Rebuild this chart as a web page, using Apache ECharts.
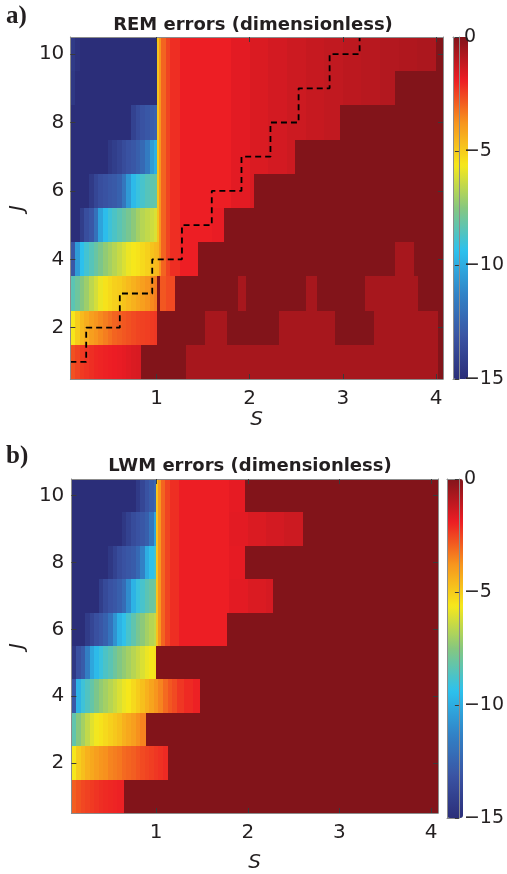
<!DOCTYPE html>
<html>
<head>
<meta charset="utf-8">
<script src="https://cdn.jsdelivr.net/npm/echarts@6/dist/echarts.min.js"></script>
<style>
  html, body { margin: 0; padding: 0; background: #fff; }
  #chart { width: 507px; height: 874px; }
</style>
</head>
<body>
<div id="chart"></div>
<script>
// axis extents and ticks
const sStart = 0.075
const sEnd = 4.075
const sTicks = [1, 2, 3, 4]
const jTicks = [2, 4, 6, 8, 10]
const errMin = -15
const errMax = 0

// colour map (jet, as printed)
const jetColors = ['#2b2e79', '#3a54a4', '#3184c8', '#2cc1ee', '#86c77f', '#f6e81b', '#f7941e', '#ed1c24', '#82141a']

// REM errors, one row per J: [S at right edge of cell, log10 error]
const remJ1 = [[0.125, -2.7], [0.175, -2.5], [0.225, -2.35], [0.275, -2.25], [0.325, -2.15], [0.375, -2.05], [0.425, -2.0], [0.475, -1.95], [0.525, -1.9], [0.575, -1.85], [0.625, -1.8], [0.675, -1.75], [0.725, -1.65], [0.775, -1.55], [0.835, -1.5], [1.32, 0], [4.025, -0.65], [4.075, 0]]
const remJ2 = [[0.125, -5.6], [0.175, -5.0], [0.225, -4.6], [0.275, -4.3], [0.325, -4.0], [0.375, -3.8], [0.425, -3.6], [0.475, -3.4], [0.525, -3.2], [0.575, -3.0], [0.625, -2.9], [0.675, -2.8], [0.725, -2.7], [0.775, -2.6], [0.825, -2.5], [0.875, -2.45], [0.925, -2.4], [0.975, -2.35], [1.0, -2.3], [1.52, 0], [1.76, -0.65], [2.32, 0], [2.92, -0.65], [3.33, 0], [4.025, -0.65], [4.075, 0]]
const remJ3 = [[0.125, -8.4], [0.175, -8.0], [0.225, -7.5], [0.275, -7.1], [0.325, -6.6], [0.375, -6.2], [0.425, -5.8], [0.475, -5.5], [0.525, -5.3], [0.575, -5.1], [0.625, -5.0], [0.675, -4.8], [0.725, -4.6], [0.775, -4.4], [0.825, -4.2], [0.875, -4.0], [0.925, -3.8], [0.975, -3.6], [1.0, -3.4], [1.04, 0], [1.1, -2.8], [1.2, -2.6], [1.875, 0], [1.965, -0.65], [2.6, 0], [2.72, -0.65], [3.24, 0], [3.81, -0.65], [4.075, 0]]
const remJ4 = [[0.125, -13.0], [0.175, -10.5], [0.225, -9.4], [0.275, -8.9], [0.325, -8.5], [0.375, -8.1], [0.425, -7.7], [0.475, -7.3], [0.525, -7.0], [0.575, -6.7], [0.625, -6.4], [0.675, -6.1], [0.725, -5.8], [0.775, -5.6], [0.825, -5.5], [0.875, -5.3], [0.925, -5.1], [0.975, -4.8], [1.0, -4.6], [1.025, -4.5], [1.05, -3.8], [1.1, -3.0], [1.15, -2.5], [1.25, -2.15], [1.44, -1.9], [3.56, 0], [3.76, -0.65], [4.075, 0]]
const remJ5 = [[0.175, -15], [0.225, -14.2], [0.275, -13.4], [0.325, -13.0], [0.375, -12.0], [0.425, -10.3], [0.475, -9.5], [0.525, -9.0], [0.575, -8.7], [0.625, -8.4], [0.675, -8.1], [0.725, -7.8], [0.775, -7.4], [0.825, -7.0], [0.875, -6.7], [0.925, -6.5], [0.975, -6.3], [1.0, -6.1], [1.025, -4.8], [1.05, -3.8], [1.1, -3.0], [1.15, -2.5], [1.25, -2.15], [1.6, -1.9], [1.72, -1.8], [4.075, 0]]
const remJ6 = [[0.275, -15], [0.325, -14.4], [0.375, -13.8], [0.425, -13.4], [0.475, -13.2], [0.525, -13.0], [0.575, -12.9], [0.625, -12.6], [0.675, -11.8], [0.725, -10.6], [0.775, -9.6], [0.825, -9.1], [0.875, -8.8], [0.925, -8.5], [0.975, -8.3], [1.0, -8.2], [1.025, -4.8], [1.05, -3.8], [1.1, -3.0], [1.15, -2.5], [1.25, -2.15], [1.8, -1.9], [2.0, -1.7], [2.043, -1.55], [4.075, 0]]
const remJ7 = [[0.475, -15], [0.525, -14.5], [0.575, -14.2], [0.625, -13.9], [0.675, -13.5], [0.725, -13.2], [0.775, -13.0], [0.825, -12.7], [0.875, -12.3], [0.925, -11.6], [0.975, -10.5], [1.0, -9.9], [1.025, -4.8], [1.05, -3.8], [1.1, -3.0], [1.15, -2.5], [1.25, -2.15], [1.8, -1.9], [2.0, -1.7], [2.2, -1.55], [2.4, -1.42], [2.486, -1.3], [4.075, 0]]
const remJ8 = [[0.725, -15], [0.775, -14.0], [0.825, -13.5], [0.875, -13.2], [0.925, -13.0], [0.975, -12.8], [1.0, -12.6], [1.025, -4.8], [1.05, -3.8], [1.1, -3.0], [1.15, -2.5], [1.25, -2.15], [1.8, -1.9], [2.0, -1.7], [2.2, -1.55], [2.4, -1.42], [2.6, -1.3], [2.8, -1.2], [2.965, -1.1], [4.075, 0]]
const remJ9 = [[0.125, -14.5], [1.0, -15], [1.025, -4.8], [1.05, -3.8], [1.1, -3.0], [1.15, -2.5], [1.25, -2.15], [1.8, -1.9], [2.0, -1.7], [2.2, -1.55], [2.4, -1.42], [2.6, -1.3], [2.8, -1.2], [3.0, -1.1], [3.2, -1.02], [3.4, -0.94], [3.56, -0.86], [4.075, 0]]
const remJ10 = [[0.125, -14.4], [0.175, -14.8], [1.0, -15], [1.025, -4.8], [1.05, -3.8], [1.1, -3.0], [1.15, -2.5], [1.25, -2.15], [1.8, -1.9], [2.0, -1.7], [2.2, -1.55], [2.4, -1.42], [2.6, -1.3], [2.8, -1.2], [3.0, -1.1], [3.2, -1.02], [3.4, -0.94], [3.6, -0.86], [3.8, -0.8], [4.0, -0.74], [4.075, 0]]

// LWM errors, same layout
const lwmJ1 = [[0.125, -2.9], [0.175, -2.7], [0.225, -2.55], [0.275, -2.45], [0.325, -2.35], [0.375, -2.25], [0.425, -2.15], [0.475, -2.1], [0.525, -2.05], [0.575, -2.0], [0.647, -1.95], [4.075, 0]]
const lwmJ2 = [[0.125, -5.6], [0.175, -5.0], [0.225, -4.7], [0.275, -4.4], [0.325, -4.2], [0.375, -4.0], [0.425, -3.8], [0.475, -3.7], [0.525, -3.5], [0.575, -3.4], [0.625, -3.3], [0.675, -3.1], [0.725, -3.0], [0.775, -2.9], [0.825, -2.75], [0.875, -2.6], [0.925, -2.5], [0.975, -2.4], [1.025, -2.3], [1.075, -2.2], [1.124, -2.1], [4.075, 0]]
const lwmJ3 = [[0.125, -8.3], [0.175, -7.5], [0.225, -7.0], [0.275, -6.5], [0.325, -6.0], [0.375, -5.7], [0.425, -5.5], [0.475, -5.3], [0.525, -5.1], [0.575, -4.9], [0.625, -4.7], [0.675, -4.4], [0.725, -4.2], [0.775, -4.0], [0.825, -3.7], [0.885, -3.5], [4.075, 0]]
const lwmJ4 = [[0.125, -13.0], [0.175, -9.8], [0.225, -9.0], [0.275, -8.6], [0.325, -8.2], [0.375, -7.7], [0.425, -7.3], [0.475, -7.0], [0.525, -6.7], [0.575, -6.4], [0.625, -6.1], [0.675, -5.8], [0.725, -5.6], [0.775, -5.3], [0.825, -5.0], [0.875, -4.7], [0.925, -4.4], [0.975, -4.1], [1.025, -3.8], [1.075, -3.5], [1.125, -3.1], [1.175, -2.8], [1.225, -2.6], [1.3, -2.3], [1.4, -2.1], [1.477, -1.95], [4.075, 0]]
const lwmJ5 = [[0.125, -14.5], [0.175, -13.3], [0.225, -12.8], [0.275, -11.5], [0.325, -10.2], [0.375, -9.6], [0.425, -9.1], [0.475, -8.7], [0.525, -8.4], [0.575, -8.0], [0.625, -7.6], [0.675, -7.3], [0.725, -7.0], [0.775, -6.7], [0.825, -6.4], [0.875, -6.1], [0.925, -5.8], [0.975, -5.6], [1.0, -5.5], [4.075, 0]]
const lwmJ6 = [[0.225, -15], [0.275, -14.3], [0.325, -13.8], [0.375, -13.3], [0.425, -13.0], [0.475, -12.6], [0.525, -11.9], [0.575, -10.8], [0.625, -9.8], [0.675, -9.3], [0.725, -8.8], [0.775, -8.3], [0.825, -7.8], [0.875, -7.4], [0.925, -7.0], [0.975, -6.7], [1.0, -6.5], [1.025, -4.8], [1.05, -3.8], [1.1, -3.0], [1.15, -2.5], [1.25, -2.15], [1.77, -1.9], [4.075, 0]]
const lwmJ7 = [[0.375, -15], [0.425, -14.2], [0.475, -13.6], [0.525, -13.2], [0.575, -13.0], [0.625, -12.7], [0.675, -12.2], [0.725, -11.0], [0.775, -9.8], [0.825, -9.1], [0.875, -8.8], [0.925, -8.4], [0.975, -8.1], [1.0, -7.9], [1.025, -4.8], [1.05, -3.8], [1.1, -3.0], [1.15, -2.5], [1.25, -2.15], [1.8, -1.9], [2.0, -1.7], [2.2, -1.55], [2.28, -1.45], [4.075, 0]]
const lwmJ8 = [[0.475, -15], [0.525, -14.5], [0.575, -14.0], [0.625, -13.5], [0.675, -13.2], [0.725, -13.0], [0.775, -12.8], [0.825, -12.3], [0.875, -11.4], [0.925, -10.0], [0.975, -9.3], [1.0, -8.9], [1.025, -4.8], [1.05, -3.8], [1.1, -3.0], [1.15, -2.5], [1.25, -2.15], [1.8, -1.9], [1.965, -1.75], [4.075, 0]]
const lwmJ9 = [[0.625, -15], [0.675, -14.5], [0.725, -14.0], [0.775, -13.5], [0.825, -13.2], [0.875, -13.0], [0.925, -12.7], [0.975, -11.8], [1.0, -10.3], [1.025, -4.8], [1.05, -3.8], [1.1, -3.0], [1.15, -2.5], [1.25, -2.15], [1.8, -1.9], [2.0, -1.7], [2.2, -1.55], [2.4, -1.42], [2.6, -1.3], [4.075, 0]]
const lwmJ10 = [[0.775, -15], [0.825, -14.4], [0.875, -13.8], [0.925, -13.2], [0.975, -12.8], [1.0, -12.4], [1.025, -4.8], [1.05, -3.8], [1.1, -3.0], [1.15, -2.5], [1.25, -2.15], [1.8, -1.9], [1.97, -1.75], [4.075, 0]]

// dashed staircase on the REM panel
const stairS = [0.075, 0.245, 0.606, 0.954, 1.273, 1.593, 1.912, 2.223, 2.525, 2.858, 3.18]
const stairJ = [1, 2, 3, 4, 5, 6, 7, 8, 9, 10, 10.5]

const remRows = [remJ1, remJ2, remJ3, remJ4, remJ5, remJ6, remJ7, remJ8, remJ9, remJ10]
const lwmRows = [lwmJ1, lwmJ2, lwmJ3, lwmJ4, lwmJ5, lwmJ6, lwmJ7, lwmJ8, lwmJ9, lwmJ10]

// rows -> [s0, s1, J, value]
const toCells = rows => {
  const cells = []
  rows.forEach((row, i) => {
    let s0 = sStart
    row.forEach(([s1, v]) => {
      cells.push([s0, s1, i + 1, v])
      s0 = s1
    })
  })
  return cells
}

// snap cell corners to whole pixels so neighbours meet without seams
const renderCell = (params, api) => {
  const p0 = api.coord([api.value(0), api.value(2) + 0.5])
  const p1 = api.coord([api.value(1), api.value(2) - 0.5])
  const x0 = Math.round(p0[0]), y0 = Math.round(p0[1])
  const x1 = Math.round(p1[0]), y1 = Math.round(p1[1])
  return {
    type: 'rect',
    shape: { x: x0, y: y0, width: x1 - x0, height: y1 - y0 },
    style: { fill: api.visual('color') }
  }
}

const FONT = 'DejaVu Sans'
const TXT = '#231f20'
const boxLine = { show: true, onZero: false, lineStyle: { color: '#8c8c8c', width: 1 } }
const tickLine = { color: '#3a3a3a', width: 1 }
const minus = v => String(v).replace('-', '\u2212')

// main plot axes
const sAxis = (gridIndex, position, labels, nameGap) => ({
  type: 'value', gridIndex, position, min: sStart, max: sEnd, z: 5,
  axisLine: boxLine,
  axisTick: { show: true, inside: true, length: 5, customValues: sTicks, lineStyle: tickLine },
  axisLabel: { show: labels, customValues: sTicks, margin: 10, color: TXT, fontFamily: FONT, fontSize: 20 },
  splitLine: { show: false },
  name: labels ? 'S' : '', nameLocation: 'middle', nameGap,
  nameTextStyle: { color: TXT, fontFamily: FONT, fontSize: 20, fontStyle: 'italic' }
})
const jAxis = (gridIndex, position, labels, margin, nameGap) => ({
  type: 'value', gridIndex, position, min: 0.5, max: 10.5, z: 5,
  axisLine: boxLine,
  axisTick: { show: true, inside: true, length: 5, customValues: jTicks, lineStyle: tickLine },
  axisLabel: { show: labels, customValues: jTicks, margin, color: TXT, fontFamily: FONT, fontSize: 20 },
  splitLine: { show: false },
  name: labels ? 'J' : '', nameLocation: 'middle', nameGap,
  nameTextStyle: { color: TXT, fontFamily: FONT, fontSize: 20, fontStyle: 'italic' }
})
// colour bar axes
const cbX = (gridIndex, position) => ({
  type: 'value', gridIndex, position, min: 0, max: 1, z: 10,
  axisLine: boxLine, axisTick: { show: false }, axisLabel: { show: false }, splitLine: { show: false }
})
const cbY = (gridIndex, position, labels) => ({
  type: 'value', gridIndex, position, min: errMin, max: errMax, interval: 5, z: 10,
  axisLine: boxLine,
  axisTick: { show: labels, inside: true, length: 4, lineStyle: tickLine },
  axisLabel: { show: labels, margin: 5, color: TXT, fontFamily: FONT, fontSize: 19, formatter: minus },
  splitLine: { show: false }
})
const colorBar = (seriesIndex, left, top, width, height) => ({
  type: 'continuous', seriesIndex, dimension: 3, min: errMin, max: errMax,
  inRange: { color: jetColors },
  calculable: false, hoverLink: false, orient: 'vertical',
  left, top, itemWidth: width, itemHeight: height, padding: 0
})

const chart = echarts.init(document.getElementById('chart'))

chart.setOption({
  animation: false,
  backgroundColor: '#fff',
  grid: [
    { left: 67, top: 37, width: 376, height: 342 },
    { left: 453, top: 37, width: 15, height: 342 },
    { left: 61, top: 479, width: 377, height: 339 },
    { left: 447, top: 479, width: 16, height: 339 }
  ],
  xAxis: [
    sAxis(0, 'bottom', true, 31), sAxis(0, 'top', false, 0),
    cbX(1, 'bottom'), cbX(1, 'top'),
    sAxis(2, 'bottom', true, 40), sAxis(2, 'top', false, 0),
    cbX(3, 'bottom'), cbX(3, 'top')
  ],
  yAxis: [
    jAxis(0, 'left', true, 6, 33), jAxis(0, 'right', false, 6, 0),
    cbY(1, 'left', false), cbY(1, 'right', true),
    jAxis(2, 'left', true, 7, 33), jAxis(2, 'right', false, 7, 0),
    cbY(3, 'left', false), cbY(3, 'right', true)
  ],
  visualMap: [
    colorBar(0, 453, 37, 15, 342),
    colorBar(2, 447, 479, 16, 339)
  ],
  graphic: [
    { type: 'text', x: 6, y: 4, style: { text: 'a)', font: 'bold 25px "Liberation Serif"', fill: TXT } },
    { type: 'text', x: 253, y: 25, style: { text: 'REM errors (dimensionless)', font: 'bold 18px "DejaVu Sans"', fill: TXT, align: 'center', verticalAlign: 'middle' } },
    { type: 'text', x: 6, y: 444, style: { text: 'b)', font: 'bold 25px "Liberation Serif"', fill: TXT } },
    { type: 'text', x: 250, y: 466, style: { text: 'LWM errors (dimensionless)', font: 'bold 18px "DejaVu Sans"', fill: TXT, align: 'center', verticalAlign: 'middle' } }
  ],
  series: [
    {
      type: 'custom', xAxisIndex: 0, yAxisIndex: 0, clip: true,
      encode: { x: [0, 1], y: 2 },
      renderItem: renderCell,
      data: toCells(remRows)
    },
    {
      type: 'line', xAxisIndex: 0, yAxisIndex: 0, z: 3,
      step: 'end', symbol: 'none',
      lineStyle: { color: '#000', width: 1.8, type: [6, 4] },
      data: stairS.map((s, i) => [s, stairJ[i]])
    },
    {
      type: 'custom', xAxisIndex: 4, yAxisIndex: 4, clip: true,
      encode: { x: [0, 1], y: 2 },
      renderItem: renderCell,
      data: toCells(lwmRows)
    }
  ]
})
</script>
</body>
</html>
